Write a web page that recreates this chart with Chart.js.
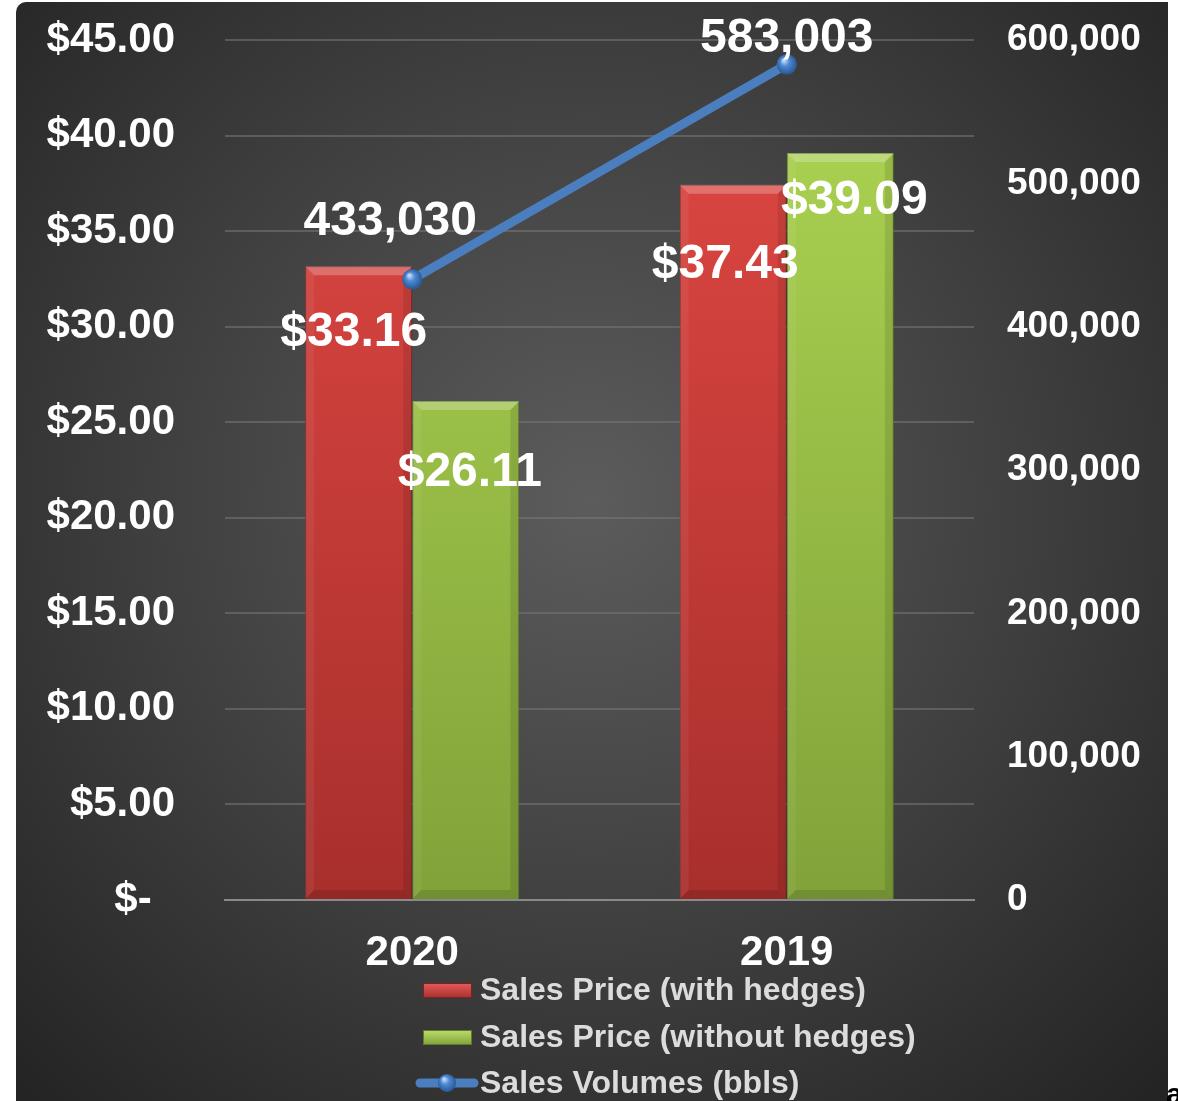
<!DOCTYPE html>
<html>
<head>
<meta charset="utf-8">
<script src="https://cdn.jsdelivr.net/npm/chart.js@4.4.1/dist/chart.umd.min.js"></script>
<style>
html,body{margin:0;padding:0;background:#ffffff;}
#wrap{position:relative;width:1178px;height:1101px;}
</style>
</head>
<body>
<div id="wrap"><canvas id="c" width="1178" height="1101"></canvas></div>
<script>
const categories = ['2020', '2019'];
const priceWithHedges = [33.16, 37.43];
const priceWithoutHedges = [26.11, 39.09];
const salesVolumes = [433030, 583003];
const seriesNames = ['Sales Price (with hedges)', 'Sales Price (without hedges)', 'Sales Volumes (bbls)'];
const leftTicks = [0, 5, 10, 15, 20, 25, 30, 35, 40, 45];
const rightTicks = [0, 100000, 200000, 300000, 400000, 500000, 600000];

const FONT = '"Liberation Sans", Arial, sans-serif';

function barGradient(ctx, top, bottom) {
  const chart = ctx.chart;
  const area = chart.chartArea;
  if (!area) return top;
  const g = chart.ctx.createLinearGradient(0, area.top, 0, area.bottom);
  g.addColorStop(0, top);
  g.addColorStop(1, bottom);
  return g;
}

// label offsets (manual placement as in the original)
const labelOffsets = {
  0: [[-5, 66], [-8, 80]],
  1: [[4, 72], [14, 48]],
  2: [[-22, -58], [0, -26]]
};

function sphere(c, x, y, r) {
  const g = c.createRadialGradient(x - 3, y - 4, 1, x, y, r + 1);
  g.addColorStop(0, '#bcd6f5');
  g.addColorStop(0.35, '#4f8ad3');
  g.addColorStop(1, '#24508e');
  c.fillStyle = g;
  c.beginPath();
  c.arc(x, y, r, 0, Math.PI * 2);
  c.fill();
}

const bgPlugin = {
  id: 'bg',
  beforeDraw(chart) {
    const c = chart.ctx;
    c.save();
    c.fillStyle = '#ffffff';
    c.fillRect(0, 0, chart.width, chart.height);
    const g = c.createRadialGradient(590, 500, 0, 590, 500, 820);
    g.addColorStop(0, '#5c5c5c');
    g.addColorStop(0.55, '#3e3e3e');
    g.addColorStop(1, '#242424');
    c.fillStyle = g;
    c.beginPath();
    c.roundRect(16, 2, 1152, 1120, [10, 0, 0, 0]);
    c.fill();
    c.restore();
  },
  afterDatasetDraw(chart, args) {
    const meta = args.meta;
    if (meta.type !== 'bar') return;
    const c = chart.ctx;
    c.save();
    meta.data.forEach(bar => {
      const x0 = bar.x - bar.width / 2, x1 = bar.x + bar.width / 2;
      const t = bar.y, b = bar.base;
      const d = 9;
      c.fillStyle = 'rgba(255,255,255,0.24)';
      c.beginPath();
      c.moveTo(x0, t); c.lineTo(x1, t); c.lineTo(x1 - d, t + d); c.lineTo(x0 + d, t + d); c.closePath();
      c.fill();
      c.fillStyle = 'rgba(255,255,255,0.06)';
      c.beginPath();
      c.moveTo(x0, t); c.lineTo(x0 + d, t + d); c.lineTo(x0 + d, b - d); c.lineTo(x0, b); c.closePath();
      c.fill();
      c.fillStyle = 'rgba(0,0,0,0.10)';
      c.beginPath();
      c.moveTo(x1, t); c.lineTo(x1 - d, t + d); c.lineTo(x1 - d, b - d); c.lineTo(x1, b); c.closePath();
      c.fill();
      c.fillStyle = 'rgba(0,0,0,0.12)';
      c.beginPath();
      c.moveTo(x0, b); c.lineTo(x0 + d, b - d); c.lineTo(x1 - d, b - d); c.lineTo(x1, b); c.closePath();
      c.fill();
    });
    c.restore();
  },
  afterDatasetsDraw(chart) {
    const c = chart.ctx;
    c.save();
    const lm = chart.getDatasetMeta(2);
    lm.data.forEach(p => sphere(c, p.x, p.y, 10));
    c.fillStyle = '#ffffff';
    c.font = 'bold 48px ' + FONT;
    c.textAlign = 'center';
    c.textBaseline = 'middle';
    [0, 1, 2].forEach(di => {
      const meta = chart.getDatasetMeta(di);
      const ds = chart.data.datasets[di];
      meta.data.forEach((el, i) => {
        const v = ds.data[i];
        const txt = di === 2 ? v.toLocaleString('en-US') : '$' + v.toFixed(2);
        const off = labelOffsets[di][i];
        c.fillText(txt, el.x + off[0], el.y + off[1]);
      });
    });
    c.restore();
  },
  afterDraw(chart) {
    const c = chart.ctx;
    c.save();
    const rowsY = [990, 1037, 1083];
    c.font = 'bold 32px ' + FONT;
    c.textBaseline = 'middle';
    c.textAlign = 'left';
    chart.data.datasets.forEach((ds, i) => {
      const y = rowsY[i];
      if (i < 2) {
        const g = c.createLinearGradient(0, y - 8, 0, y + 8);
        if (i === 0) { g.addColorStop(0, '#e8605c'); g.addColorStop(1, '#a8302c'); }
        else { g.addColorStop(0, '#c2e070'); g.addColorStop(1, '#7fa238'); }
        c.fillStyle = g;
        c.fillRect(423, y - 7, 49, 15);
        c.strokeStyle = i === 0 ? '#7a2422' : '#5f7a28';
        c.lineWidth = 1;
        c.strokeRect(423.5, y - 6.5, 48, 14);
      } else {
        c.strokeStyle = '#4a7ebf';
        c.lineWidth = 9;
        c.lineCap = 'round';
        c.beginPath();
        c.moveTo(420, y); c.lineTo(474, y);
        c.stroke();
        sphere(c, 447, y, 9);
      }
      c.fillStyle = '#dcdcdc';
      c.fillText(ds.label, 480, y + 1);
    });
    c.fillStyle = '#000000';
    c.font = 'bold 30px ' + FONT;
    c.textBaseline = 'alphabetic';
    c.fillText('a', 1166, 1104);
    c.restore();
  }
};

new Chart(document.getElementById('c'), {
  type: 'bar',
  data: {
    labels: categories,
    datasets: [
      {
        label: seriesNames[0],
        data: priceWithHedges,
        yAxisID: 'y',
        order: 2,
        backgroundColor: ctx => barGradient(ctx, '#e24944', '#a82f2c'),
        borderColor: '#7e2623',
        borderWidth: 1,
        barPercentage: 1,
        categoryPercentage: 0.572
      },
      {
        label: seriesNames[1],
        data: priceWithoutHedges,
        yAxisID: 'y',
        order: 2,
        backgroundColor: ctx => barGradient(ctx, '#aed653', '#81a239'),
        borderColor: '#62802a',
        borderWidth: 1,
        barPercentage: 1,
        categoryPercentage: 0.572
      },
      {
        type: 'line',
        label: seriesNames[2],
        data: salesVolumes,
        yAxisID: 'y1',
        order: 1,
        borderColor: '#4a7ebf',
        borderWidth: 9,
        pointRadius: 10,
        pointBackgroundColor: '#3a6fb5',
        pointBorderWidth: 0,
        tension: 0
      }
    ]
  },
  plugins: [bgPlugin],
  options: {
    responsive: false,
    animation: false,
    events: [],
    layout: { padding: { top: 40, left: 0, right: 0, bottom: 0 } },
    plugins: {
      legend: { display: false },
      tooltip: { enabled: false },
      title: { display: false }
    },
    scales: {
      x: {
        grid: { display: false, drawTicks: false, tickLength: 0 },
        border: { display: true, color: '#8a8a8a', width: 2 },
        ticks: {
          color: '#ffffff',
          font: { family: FONT, size: 42, weight: 'bold' },
          padding: 28
        },
        afterFit: s => { s.height = 201; }
      },
      y: {
        position: 'left',
        min: 0,
        max: 45,
        afterBuildTicks: s => { s.ticks = leftTicks.map(v => ({ value: v })); },
        grid: { color: 'rgba(120,120,120,0.55)', lineWidth: 2, drawTicks: false, tickLength: 0 },
        border: { display: false },
        ticks: {
          color: '#ffffff',
          font: { family: FONT, size: 42, weight: 'bold' },
          padding: 50,
          callback: v => v === 0 ? '$-  ' : '$' + Number(v).toFixed(2)
        },
        afterFit: s => { s.width = 225; s.paddingTop = 10; s.paddingBottom = 10; }
      },
      y1: {
        position: 'right',
        min: 0,
        max: 600000,
        afterBuildTicks: s => { s.ticks = rightTicks.map(v => ({ value: v })); },
        grid: { display: false, drawTicks: false, tickLength: 0 },
        border: { display: false },
        ticks: {
          color: '#ffffff',
          font: { family: FONT, size: 37, weight: 'bold' },
          padding: 33,
          callback: v => Number(v).toLocaleString('en-US')
        },
        afterFit: s => { s.width = 204; s.paddingTop = 10; s.paddingBottom = 10; }
      }
    }
  }
});
</script>
</body>
</html>
